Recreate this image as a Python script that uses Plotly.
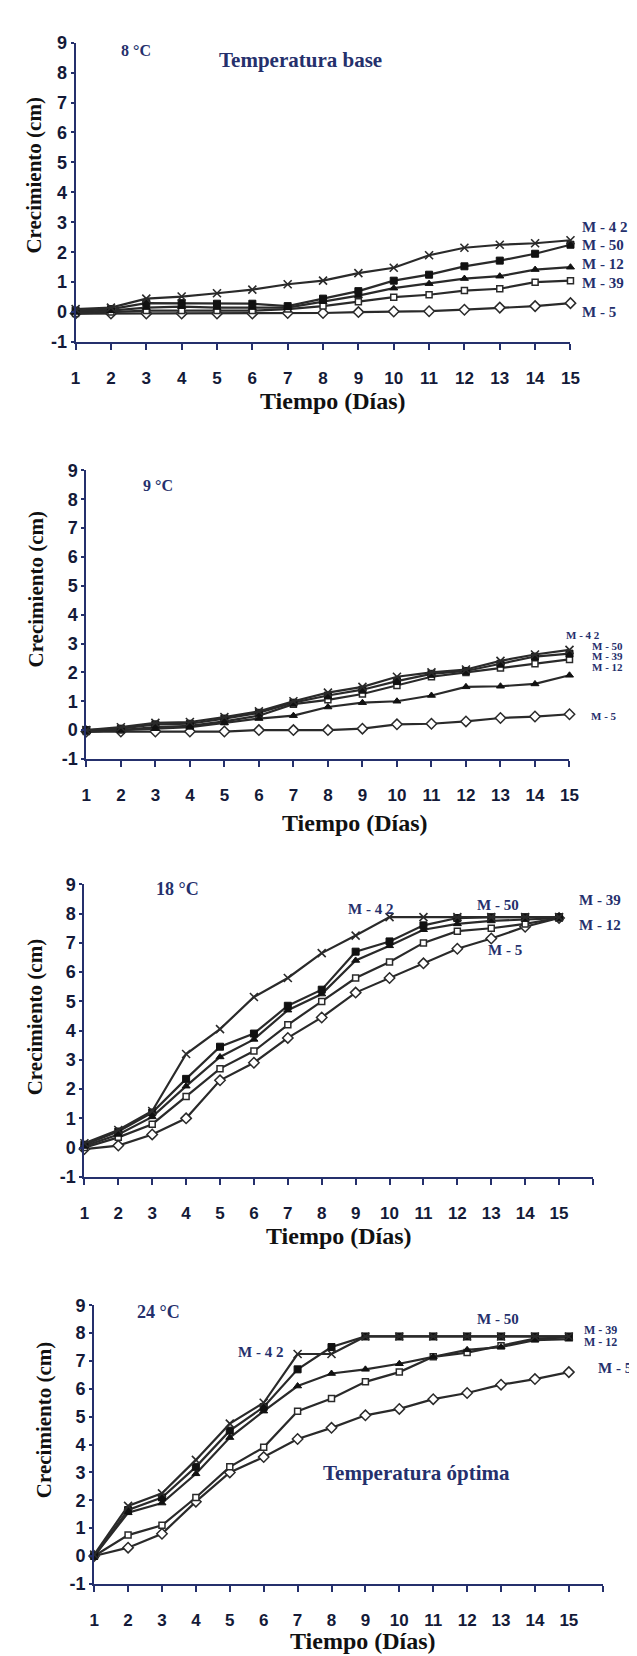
import plotly.graph_objects as go

# ---------------- data ----------------
days = list(range(1, 16))
series = ["M-42", "M-50", "M-12", "M-39", "M-5"]

# 8 °C (Temperatura base)
t8_m42 = [0.10, 0.15, 0.45, 0.52, 0.63, 0.75, 0.93, 1.05, 1.30, 1.48, 1.90, 2.15, 2.25, 2.30, 2.40]
t8_m50 = [0.05, 0.10, 0.30, 0.30, 0.28, 0.28, 0.20, 0.45, 0.70, 1.05, 1.25, 1.53, 1.72, 1.95, 2.25]
t8_m12 = [0.00, 0.05, 0.15, 0.18, 0.15, 0.15, 0.15, 0.35, 0.55, 0.80, 0.95, 1.12, 1.20, 1.42, 1.50]
t8_m39 = [-0.05, 0.00, 0.05, 0.05, 0.05, 0.05, 0.10, 0.20, 0.35, 0.50, 0.58, 0.72, 0.78, 1.00, 1.05]
t8_m5 = [-0.05, -0.05, -0.05, -0.05, -0.05, -0.05, -0.03, -0.03, 0.00, 0.02, 0.03, 0.08, 0.15, 0.20, 0.30]

# 9 °C
t9_m42 = [0.00, 0.10, 0.25, 0.28, 0.45, 0.65, 1.00, 1.30, 1.50, 1.85, 2.00, 2.10, 2.40, 2.62, 2.78]
t9_m50 = [0.00, 0.05, 0.20, 0.22, 0.40, 0.60, 0.95, 1.20, 1.40, 1.70, 1.95, 2.05, 2.30, 2.55, 2.65]
t9_m39 = [-0.05, 0.00, 0.10, 0.15, 0.30, 0.50, 0.90, 1.05, 1.25, 1.55, 1.85, 2.00, 2.15, 2.30, 2.45]
t9_m12 = [-0.05, 0.00, 0.05, 0.10, 0.25, 0.40, 0.50, 0.80, 0.95, 1.00, 1.20, 1.50, 1.52, 1.60, 1.90]
t9_m5 = [-0.05, -0.05, -0.05, -0.05, -0.05, 0.00, 0.00, 0.00, 0.05, 0.20, 0.22, 0.30, 0.42, 0.47, 0.55]

# 18 °C
t18_m42 = [0.15, 0.60, 1.25, 3.20, 4.05, 5.15, 5.80, 6.65, 7.25, 7.88, 7.88, 7.88, 7.88, 7.88, 7.88]
t18_m50 = [0.10, 0.55, 1.20, 2.35, 3.45, 3.90, 4.85, 5.40, 6.70, 7.05, 7.60, 7.85, 7.88, 7.88, 7.88]
t18_m12 = [0.05, 0.45, 1.05, 2.10, 3.10, 3.70, 4.70, 5.25, 6.40, 6.90, 7.45, 7.65, 7.75, 7.80, 7.85]
t18_m39 = [0.00, 0.35, 0.80, 1.75, 2.70, 3.30, 4.20, 5.00, 5.80, 6.35, 7.00, 7.40, 7.50, 7.65, 7.85]
t18_m5 = [-0.05, 0.07, 0.45, 1.00, 2.30, 2.90, 3.75, 4.45, 5.30, 5.80, 6.30, 6.80, 7.15, 7.55, 7.85]

# 24 °C (Temperatura óptima)
t24_m42 = [0.05, 1.80, 2.25, 3.45, 4.75, 5.50, 7.25, 7.25, 7.88, 7.88, 7.88, 7.88, 7.88, 7.88, 7.88]
t24_m50 = [0.00, 1.65, 2.10, 3.20, 4.50, 5.35, 6.70, 7.50, 7.88, 7.88, 7.88, 7.88, 7.88, 7.88, 7.88]
t24_m12 = [0.00, 1.55, 1.90, 2.95, 4.25, 5.20, 6.10, 6.55, 6.70, 6.90, 7.15, 7.40, 7.50, 7.75, 7.78]
t24_m39 = [0.00, 0.75, 1.10, 2.10, 3.20, 3.90, 5.20, 5.65, 6.25, 6.60, 7.15, 7.30, 7.55, 7.80, 7.85]
t24_m5 = [0.00, 0.30, 0.80, 1.95, 3.00, 3.55, 4.20, 4.60, 5.05, 5.28, 5.63, 5.85, 6.15, 6.35, 6.60]

y_tickvals = [-1, 0, 1, 2, 3, 4, 5, 6, 7, 8, 9]
y_ticktext = ["-1", "0", "1", "2", "3", "4", "5", "6", "7", "8", "9"]
x_ticktext = [str(d) for d in days]

panel_titles = ["8 °C", "9 °C", "18 °C", "24 °C"]
panel_data = [
    {"M-42": t8_m42, "M-50": t8_m50, "M-12": t8_m12, "M-39": t8_m39, "M-5": t8_m5},
    {"M-42": t9_m42, "M-50": t9_m50, "M-12": t9_m12, "M-39": t9_m39, "M-5": t9_m5},
    {"M-42": t18_m42, "M-50": t18_m50, "M-12": t18_m12, "M-39": t18_m39, "M-5": t18_m5},
    {"M-42": t24_m42, "M-50": t24_m50, "M-12": t24_m12, "M-39": t24_m39, "M-5": t24_m5},
]

# ---------------- styling ----------------
W, H = 637, 1656
NAVY = "#25306c"
TICKC = "#141a38"
LINEC = "#2a2a2a"
SERIF = "Liberation Serif, Times New Roman, serif"
SANS = "Liberation Sans, Arial, sans-serif"

marker_styles = {
    "M-42": dict(symbol="x-thin", size=8, color=LINEC, line=dict(color=LINEC, width=1.6)),
    "M-50": dict(symbol="square", size=7, color="#111111", line=dict(color="#111111", width=1)),
    "M-12": dict(symbol="triangle-up", size=7, color="#111111", line=dict(color="#111111", width=1)),
    "M-39": dict(symbol="square", size=6, color="white", line=dict(color=LINEC, width=1.5)),
    "M-5": dict(symbol="diamond", size=8, color="white", line=dict(color=LINEC, width=1.5)),
}

# pixel geometry of each panel: x of day 1, x of axis end, y of -1, y of 9
geom = [
    dict(x0=64, x1=570, yb=328, yt=25, xmax=15),
    dict(x0=75, x1=569, yb=750, yt=458, xmax=15),
    dict(x0=73, x1=593, yb=1173, yt=877, xmax=16),
    dict(x0=83, x1=603, yb=1585, yt=1303, xmax=16),
]

fig = go.Figure()
layout = dict(
    width=W, height=H, margin=dict(l=0, r=0, t=0, b=0),
    paper_bgcolor="white", plot_bgcolor="white", showlegend=False,
)

order = ["M-5", "M-39", "M-12", "M-50", "M-42"]
for i, (g, data) in enumerate(zip(geom, panel_data)):
    n = i + 1
    xa = "x" if n == 1 else f"x{n}"
    ya = "y" if n == 1 else f"y{n}"
    for name in order:
        fig.add_trace(go.Scatter(
            x=days, y=data[name], mode="lines+markers", name=name,
            xaxis=xa, yaxis=ya, cliponaxis=False,
            line=dict(color=LINEC, width=2.2), marker=marker_styles[name],
        ))
    tickvals = list(range(1, g["xmax"] + 1))
    ticktext = x_ticktext + [""] * (g["xmax"] - 15)
    common_x = dict(
        domain=[g["x0"] / W, g["x1"] / W], range=[1, g["xmax"]],
        tickvals=tickvals, showgrid=False, zeroline=False, fixedrange=True,
    )
    layout[f"xaxis{'' if n == 1 else n}"] = dict(
        **common_x, anchor=ya, ticktext=ticktext,
        showline=True, linecolor=NAVY, linewidth=2,
        ticks="outside", ticklen=6, tickwidth=2, tickcolor=NAVY,
        tickfont=dict(family=SANS, size=17, color=TICKC, weight="bold"),
        ticklabelstandoff=14,
    )
    # overlay axis giving crossing x ticks
    layout[f"xaxis{n + 4}"] = dict(
        **common_x, anchor=ya, overlaying=xa, showticklabels=False,
        showline=False, ticks="inside", ticklen=6, tickwidth=2, tickcolor=NAVY,
    )
    common_y = dict(
        domain=[1 - g["yb"] / H, 1 - g["yt"] / H], range=[-1, 9],
        tickvals=y_tickvals, showgrid=False, zeroline=False, fixedrange=True,
    )
    layout[f"yaxis{'' if n == 1 else n}"] = dict(
        **common_y, anchor=xa, ticktext=y_ticktext,
        showline=True, linecolor=NAVY, linewidth=2,
        ticks="outside", ticklen=3, tickwidth=2, tickcolor=NAVY,
        tickfont=dict(family=SANS, size=18, color=TICKC, weight="bold"),
    )
    # overlay axis giving crossing y ticks
    layout[f"yaxis{n + 4}"] = dict(
        **common_y, anchor=xa, overlaying=ya, showticklabels=False,
        showline=False, ticks="inside", ticklen=3, tickwidth=2, tickcolor=NAVY,
    )

annotations = []


def ann(text, px, py, size, color, family=SERIF, bold=True, xanchor="center", angle=0):
    annotations.append(dict(
        text=text, x=px / W, y=1 - py / H, xref="paper", yref="paper",
        xanchor=xanchor, yanchor="middle", showarrow=False, textangle=angle,
        font=dict(family=family, size=size, color=color, weight="bold" if bold else "normal"),
    ))


# axis titles
for cx, cy in [(22, 160), (24, 578), (22, 1012), (32, 1419)]:
    ann("Crecimiento (cm)", cx, cy, 21, "#111111", angle=-90)
for cx, cy in [(327, 388), (350, 815), (333, 1233), (358, 1643)]:
    ann("Tiempo (Días)", cx, cy, 24, "#111111")

# panel labels
ann(panel_titles[0], 126, 33, 16, NAVY)
ann("Temperatura base", 294, 43, 21, NAVY)
ann(panel_titles[1], 148, 473, 16, NAVY)
ann(panel_titles[2], 168, 882, 18, NAVY)
ann(panel_titles[3], 149, 1310, 18, NAVY)
ann("Temperatura óptima", 413, 1473, 21, NAVY)

# series labels
LBL = 15
for txt, x, y in [("M - 4 2", 580, 212), ("M - 50", 580, 230), ("M - 12", 580, 249),
                  ("M - 39", 580, 268), ("M - 5", 580, 298)]:
    ann(txt, x, y, LBL, NAVY, xanchor="left")
for txt, x, y in [("M - 4 2", 563, 625), ("M - 50", 590, 636), ("M - 39", 590, 646),
                  ("M - 12", 590, 657), ("M - 5", 589, 707)]:
    ann(txt, x, y, 11, NAVY, xanchor="left")
for txt, x, y in [("M - 4 2", 340, 902), ("M - 50", 472, 898), ("M - 39", 577, 893),
                  ("M - 12", 577, 918), ("M - 5", 484, 943)]:
    ann(txt, x, y, LBL, NAVY, xanchor="left")
for txt, x, y in [("M - 50", 472, 1317), ("M - 4 2", 228, 1350), ("M - 39", 582, 1328),
                  ("M - 12", 582, 1340), ("M - 5", 596, 1367)]:
    ann(txt, x, y, 12 if txt in ("M - 39", "M - 12") else LBL, NAVY, xanchor="left")

layout["annotations"] = annotations
fig.update_layout(**layout)
fig.write_html("out.html")
